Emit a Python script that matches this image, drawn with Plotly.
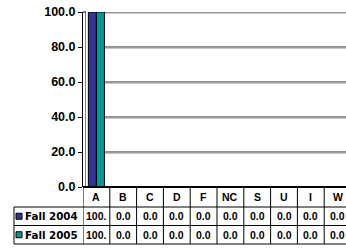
import plotly.graph_objects as go

# ---- data ----
categories = ["A", "B", "C", "D", "F", "NC", "S", "U", "I", "W"]
series_names = ["Fall 2004", "Fall 2005"]
fall_2004 = [100.0, 0.0, 0.0, 0.0, 0.0, 0.0, 0.0, 0.0, 0.0, 0.0]
fall_2005 = [100.0, 0.0, 0.0, 0.0, 0.0, 0.0, 0.0, 0.0, 0.0, 0.0]
series_values = [fall_2004, fall_2005]
series_colors = ["#333399", "#009999"]
y_ticks = [0, 20, 40, 60, 80, 100]

W, H = 346, 248
ML, MR, MT, MB = 83, 0, 12, 61
PW, PH = W - ML - MR, H - MT - MB
COL_PX = 26.8


def px_x(px):
    return (px - ML) / PW


def px_y(py):
    return (H - MB - py) / PH


def cell_text(v):
    # Excel table cell is too narrow: "100.0" shows as "100."
    return f"{v:.1f}"[:4]


fig = go.Figure()
for name, vals, col in zip(series_names, series_values, series_colors):
    fig.add_trace(go.Bar(
        x=categories, y=vals, name=name,
        marker=dict(color=col, line=dict(color="#000000", width=1)),
        showlegend=False,
    ))

shapes = []
annotations = []
bold = dict(family="Liberation Sans", size=12.5, color="#000000", weight="bold")
tfont = dict(family="Liberation Sans", size=10.5, color="#000000", weight="bold")
lfont = dict(family="DejaVu Sans", size=10.3, color="#000000", weight="bold")

# gridlines (dark line with light 3D shadow under it)
for t in y_ticks[1:]:
    shapes.append(dict(type="line", xref="paper", yref="y", x0=px_x(105), x1=1,
                       y0=t, y1=t, line=dict(color="#222222", width=1), layer="below"))
    shapes.append(dict(type="line", xref="paper", yref="y", ysizemode="pixel", yanchor=t,
                       x0=px_x(105), x1=1, y0=-1.2, y1=-1.2,
                       line=dict(color="#b0b0b0", width=1), layer="below"))
# back wall left edge
shapes.append(dict(type="line", xref="paper", yref="paper", x0=px_x(85.5), x1=px_x(85.5),
                   y0=0, y1=1, line=dict(color="#808080", width=1), layer="below"))
shapes.append(dict(type="line", xref="paper", yref="paper", x0=0, x1=px_x(86),
                   y0=1, y1=1, line=dict(color="#000000", width=1), layer="below"))

# table geometry
y_head_top = px_y(187)
y_head_bot = px_y(207)
y_row1_bot = px_y(225.5)
y_row2_bot = px_y(244)
x_label_left = px_x(14)

shapes.append(dict(type="line", xref="paper", yref="paper", x0=0, x1=1,
                   y0=y_head_top, y1=y_head_top, line=dict(color="#000000", width=2)))
for yy in (y_head_bot, y_row1_bot, y_row2_bot):
    shapes.append(dict(type="line", xref="paper", yref="paper", x0=x_label_left, x1=1,
                       y0=yy, y1=yy, line=dict(color="#000000", width=1)))
shapes.append(dict(type="line", xref="paper", yref="paper", x0=x_label_left, x1=x_label_left,
                   y0=y_head_bot, y1=y_row2_bot, line=dict(color="#000000", width=1)))
for i in range(len(categories) + 1):
    shapes.append(dict(type="line", xref="x", yref="paper", x0=i - 0.5, x1=i - 0.5,
                       y0=y_head_top, y1=y_row2_bot, line=dict(color="#000000", width=1)))

# header labels
for i, c in enumerate(categories):
    annotations.append(dict(x=i, y=(y_head_top + y_head_bot) / 2, xref="x", yref="paper",
                            text=c, showarrow=False, font=tfont,
                            xanchor="center", yanchor="middle"))

# data rows
row_bounds = [(y_head_bot, y_row1_bot), (y_row1_bot, y_row2_bot)]
for (top, bot), name, vals, col in zip(row_bounds, series_names, series_values, series_colors):
    ym = (top + bot) / 2
    sq = 3.0 / PH
    shapes.append(dict(type="rect", xref="paper", yref="paper",
                       x0=px_x(16), x1=px_x(22), y0=ym - sq, y1=ym + sq,
                       fillcolor=col, line=dict(color="#000000", width=1)))
    annotations.append(dict(x=px_x(23), y=ym, xref="paper", yref="paper", text=name,
                            showarrow=False, font=lfont, xanchor="left", yanchor="middle"))
    for i, v in enumerate(vals):
        annotations.append(dict(x=i, y=ym, xref="x", yref="paper", text=cell_text(v),
                                showarrow=False, font=tfont,
                                xanchor="center", yanchor="middle"))

fig.update_layout(
    width=W, height=H,
    margin=dict(l=ML, r=MR, t=MT, b=MB, pad=0, autoexpand=False),
    paper_bgcolor="#ffffff", plot_bgcolor="#ffffff",
    barmode="group", bargap=0.4, bargroupgap=0,
    shapes=shapes, annotations=annotations,
    xaxis=dict(range=[-0.5, -0.5 + PW / COL_PX], showticklabels=False, showgrid=False,
               zeroline=False, showline=False, ticks="", automargin=False),
    yaxis=dict(range=[0, 100], tickvals=y_ticks, tickformat=".1f", showgrid=False,
               zeroline=False, showline=True, linecolor="#000000", linewidth=1,
               ticks="outside", ticklen=4, tickcolor="#000000", tickwidth=1,
               tickfont=bold, automargin=False),
    font=dict(family="Liberation Sans"),
)

fig.write_html(
    "out.html",
    config={"displayModeBar": False},
    post_script="document.body.style.margin='0';document.body.style.overflow='hidden';",
)
